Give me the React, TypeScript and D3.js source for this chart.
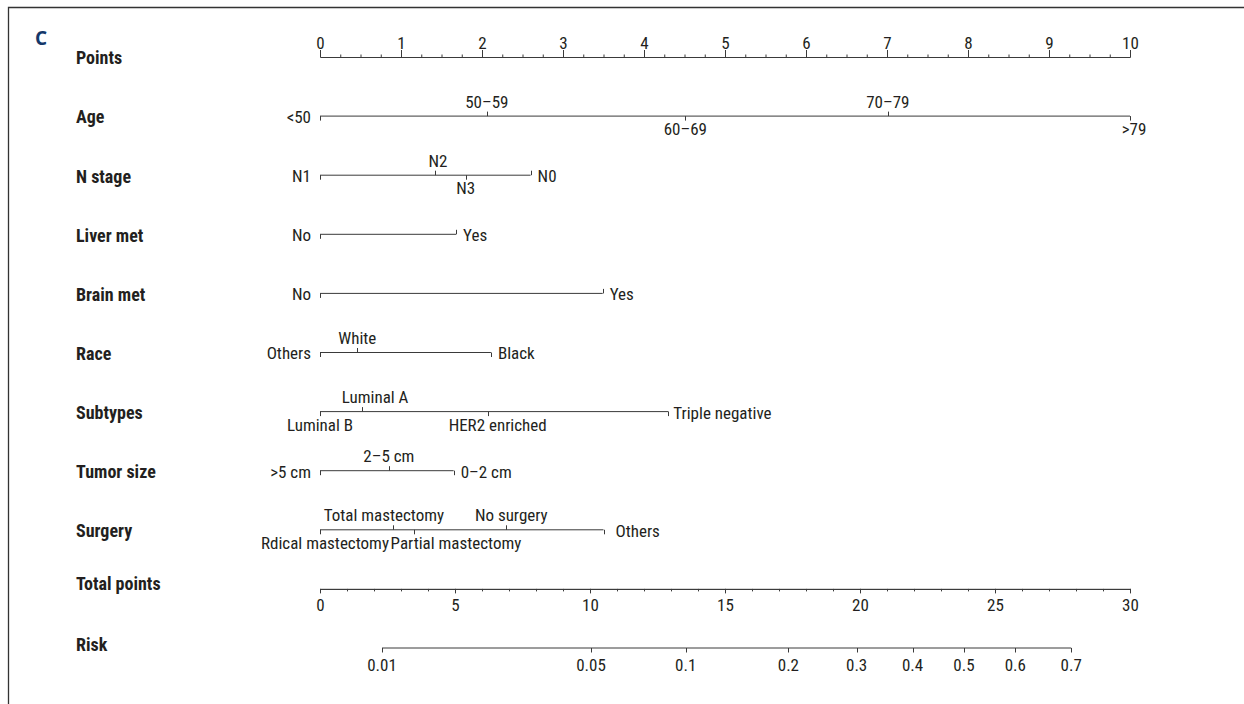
import { useEffect, useRef } from "react";
import * as d3 from "d3";

// top "Points" axis and the two bottom axes
const pointTicks = [0, 1, 2, 3, 4, 5, 6, 7, 8, 9, 10];
const totalPointTicks = [0, 5, 10, 15, 20, 25, 30];
const riskTicks = [0.01, 0.05, 0.1, 0.2, 0.3, 0.4, 0.5, 0.6, 0.7];
// logistic link: total points at 50% risk, logit per point
const riskMidPoints = 23.85;
const riskSlope = 0.2132;

const variableNames = ["Age", "N stage", "Liver met", "Brain met", "Race", "Subtypes", "Tumor size", "Surgery"];

const ageLevels = ["<50", "50\u201359", "60\u201369", "70\u201379", ">79"];
const agePoints = [0, 2.06, 4.51, 7.01, 10];
const nStageLevels = ["N1", "N2", "N3", "N0"];
const nStagePoints = [0, 1.42, 1.8, 2.6];
const liverLevels = ["No", "Yes"];
const liverPoints = [0, 1.68];
const brainLevels = ["No", "Yes"];
const brainPoints = [0, 3.49];
const raceLevels = ["Others", "White", "Black"];
const racePoints = [0, 0.46, 2.11];
const subtypeLevels = ["Luminal B", "Luminal A", "HER2 enriched", "Triple negative"];
const subtypePoints = [0, 0.52, 2.07, 4.3];
const tumorLevels = [">5 cm", "2\u20135 cm", "0\u20132 cm"];
const tumorPoints = [0, 0.85, 1.65];
const surgeryLevels = ["Rdical mastectomy", "Total mastectomy", "Partial mastectomy", "No surgery", "Others"];
const surgeryPoints = [0, 0.9, 1.16, 2.3, 3.5];

// label side per level (L left, R right, A above, B below), tick direction (1 up, -1 down)
// and a small horizontal shift (px) where the original moved a label off its tick
const layout: Record<string, { sides: string[]; ticks: number[]; nudge?: number[] }> = {
  Age: { sides: ["L", "A", "B", "A", "B"], ticks: [-1, 1, -1, 1, -1], nudge: [0, 0, 0, 0, 4] },
  "N stage": { sides: ["L", "A", "B", "R"], ticks: [-1, 1, -1, 1], nudge: [0, 3, 0, 0] },
  "Liver met": { sides: ["L", "R"], ticks: [-1, 1] },
  "Brain met": { sides: ["L", "R"], ticks: [-1, 1] },
  Race: { sides: ["L", "A", "R"], ticks: [-1, 1, -1] },
  Subtypes: { sides: ["B", "A", "B", "R"], ticks: [-1, 1, -1, -1], nudge: [0, 13, 10, -2] },
  "Tumor size": { sides: ["L", "A", "R"], ticks: [-1, 1, -1] },
  Surgery: { sides: ["B", "A", "B", "A", "R"], ticks: [-1, 1, -1, 1, -1], nudge: [5, -9, 42, 5, 5] },
};

const FONT = "'Liberation Sans Narrow', 'Roboto Condensed', 'DejaVu Sans Condensed', 'Arial Narrow', sans-serif";
const INK = "#231f20";
const LINE = "#3a3a3a";
const FS = 17;

const Nomogram = () => {
  const ref = useRef<SVGSVGElement>(null);

  useEffect(() => {
    draw();
  }, []);

  const draw = () => {
    const width = 1244;
    const height = 704;
    const svg = d3.select(ref.current).attr("width", width).attr("height", height);
    svg.selectAll("*").remove();

    const variables = [
      { name: "Age", levels: ageLevels, points: agePoints },
      { name: "N stage", levels: nStageLevels, points: nStagePoints },
      { name: "Liver met", levels: liverLevels, points: liverPoints },
      { name: "Brain met", levels: brainLevels, points: brainPoints },
      { name: "Race", levels: raceLevels, points: racePoints },
      { name: "Subtypes", levels: subtypeLevels, points: subtypePoints },
      { name: "Tumor size", levels: tumorLevels, points: tumorPoints },
      { name: "Surgery", levels: surgeryLevels, points: surgeryPoints },
    ];

    const rows = ["Points", ...variableNames, "Total points", "Risk"];
    const yRow = d3.scalePoint<string>().domain(rows).range([57, 648]);

    const xPoints = d3.scaleLinear().domain([0, 10]).range([320, 1130]);
    const xTotal = d3.scaleLinear().domain([0, 30]).range([320, 1130]);
    const riskToTotal = (p: number) => riskMidPoints + Math.log(p / (1 - p)) / riskSlope;

    // frame (top and left only)
    svg
      .append("path")
      .attr("d", `M8.5,${height} V7.5 H${width}`)
      .attr("fill", "none")
      .attr("stroke", "#333")
      .attr("stroke-width", 1.3);

    // panel letter
    svg
      .append("text")
      .attr("x", 35)
      .attr("y", 45)
      .attr("font-family", "'Open Sans', 'DejaVu Sans', sans-serif")
      .attr("font-weight", 700)
      .attr("font-size", 19)
      .attr("fill", "#14386a")
      .text("C");

    // row titles
    svg
      .append("g")
      .selectAll("text")
      .data(rows)
      .join("text")
      .attr("x", 76)
      .attr("y", (d) => yRow(d)! + (d === "Total points" ? -5 : d === "Risk" ? -3 : 1))
      .attr("dy", "0.35em")
      .attr("font-family", FONT)
      .attr("font-weight", 700)
      .attr("font-size", 18)
      .attr("fill", INK)
      .text((d) => d);

    const styleAxis = (g: any) => {
      g.attr("font-family", FONT).attr("font-size", FS);
      g.selectAll("path, line").attr("stroke", LINE);
      g.selectAll("text").attr("fill", INK);
    };

    // Points axis, ticks upward, minor every 0.25
    svg
      .append("g")
      .attr("transform", `translate(0,${yRow("Points")})`)
      .call(d3.axisTop(xPoints).tickValues(d3.range(0, 10.001, 0.25)).tickSize(2.5).tickSizeOuter(0).tickFormat(() => ""))
      .call(styleAxis);
    svg
      .append("g")
      .attr("transform", `translate(0,${yRow("Points")})`)
      .call(d3.axisTop(xPoints).tickValues(pointTicks).tickSize(7).tickPadding(1).tickSizeOuter(0).tickFormat(d3.format("d")))
      .call(styleAxis);

    // Total points axis, ticks downward, minor every 1
    svg
      .append("g")
      .attr("transform", `translate(0,${yRow("Total points")})`)
      .call(d3.axisBottom(xTotal).tickValues(d3.range(0, 31, 1)).tickSize(2.5).tickSizeOuter(0).tickFormat(() => ""))
      .call(styleAxis);
    svg
      .append("g")
      .attr("transform", `translate(0,${yRow("Total points")})`)
      .call(d3.axisBottom(xTotal).tickValues(totalPointTicks).tickSize(4.5).tickPadding(6).tickSizeOuter(0).tickFormat(d3.format("d")))
      .call(styleAxis);

    // Risk axis placed through the total points scale
    const xRisk = (p: number) => xTotal(riskToTotal(p));
    const riskAxis = svg.append("g").attr("transform", `translate(0,${yRow("Risk")})`);
    riskAxis
      .append("line")
      .attr("x1", xRisk(riskTicks[0]))
      .attr("x2", xRisk(riskTicks[riskTicks.length - 1]))
      .attr("stroke", LINE);
    riskAxis
      .selectAll("line.tick")
      .data(riskTicks)
      .join("line")
      .attr("class", "tick")
      .attr("x1", (d) => Math.round(xRisk(d)) + 0.5)
      .attr("x2", (d) => Math.round(xRisk(d)) + 0.5)
      .attr("y1", 0)
      .attr("y2", 4.5)
      .attr("stroke", LINE);
    riskAxis
      .selectAll("text")
      .data(riskTicks)
      .join("text")
      .attr("x", (d) => xRisk(d))
      .attr("y", 11)
      .attr("dy", "0.71em")
      .attr("text-anchor", "middle")
      .attr("font-family", FONT)
      .attr("font-size", FS)
      .attr("fill", INK)
      .text((d) => String(d));

    // one line per predictor, with level ticks and labels
    variables.forEach((v) => {
      const y = yRow(v.name)!;
      const { sides, ticks, nudge } = layout[v.name];
      const g = svg.append("g").attr("transform", `translate(0,${y})`);
      g.append("line")
        .attr("x1", xPoints(0))
        .attr("x2", xPoints(d3.max(v.points)!))
        .attr("stroke", LINE);

      const items = v.levels.map((label, i) => ({
        label,
        pts: v.points[i],
        side: sides[i],
        dir: ticks[i],
        shift: nudge ? nudge[i] : 0,
      }));

      g.selectAll("line.tick")
        .data(items)
        .join("line")
        .attr("class", "tick")
        .attr("x1", (d) => Math.round(xPoints(d.pts)) + 0.5)
        .attr("x2", (d) => Math.round(xPoints(d.pts)) + 0.5)
        .attr("y1", 0)
        .attr("y2", (d) => -d.dir * 4.5)
        .attr("stroke", LINE);

      g.selectAll("text")
        .data(items)
        .join("text")
        .attr("x", (d) => xPoints(d.pts) + d.shift + (d.side === "L" ? -9 : d.side === "R" ? 7 : 0))
        .attr("y", (d) => (d.side === "A" ? -8.5 : d.side === "B" ? 19 : 1))
        .attr("dy", (d) => (d.side === "L" || d.side === "R" ? "0.35em" : "0"))
        .attr("text-anchor", (d) => (d.side === "L" ? "end" : d.side === "R" ? "start" : "middle"))
        .attr("font-family", FONT)
        .attr("font-size", FS)
        .attr("fill", INK)
        .text((d) => d.label);
    });
  };

  return <svg ref={ref} style={{ position: "absolute", left: 0, top: 0 }}></svg>;
};

export default function App() {
  return <Nomogram />;
}
